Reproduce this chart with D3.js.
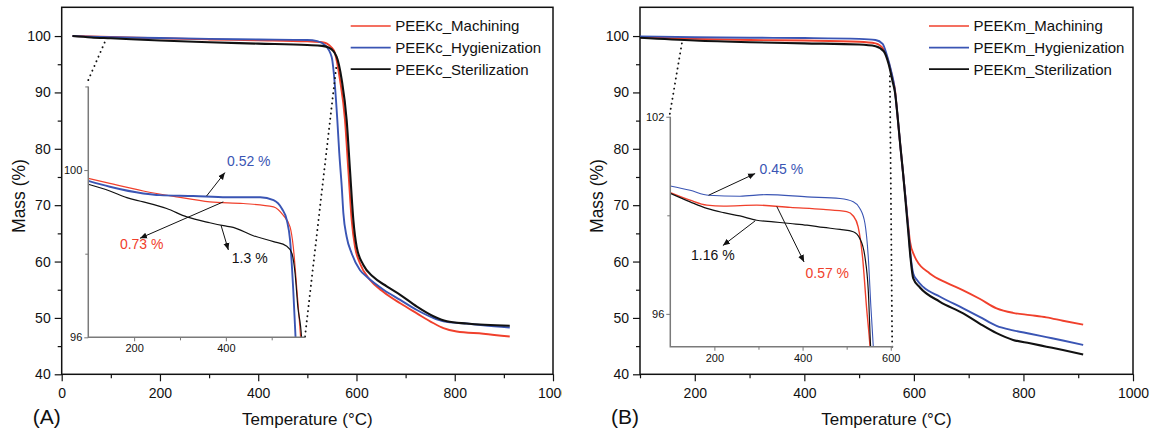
<!DOCTYPE html>
<html>
<head>
<meta charset="utf-8">
<script src="https://cdn.jsdelivr.net/npm/d3@7"></script>
<style>
  body { margin: 0; background: #fff; }
  svg { display: block; }
  text { font-family: "Liberation Sans", Arial, sans-serif; fill: #111; }
</style>
</head>
<body>
<svg id="chart" width="1160" height="434"></svg>
<script>
// ---------------- data ----------------
// Thermogravimetric curves: [temperature °C, mass %]
const seriesLabelsA = ["PEEKc_Machining", "PEEKc_Hygienization", "PEEKc_Sterilization"];
const seriesLabelsB = ["PEEKm_Machining", "PEEKm_Hygienization", "PEEKm_Sterilization"];

const peekcMachining = [[22,100],[100,99.85],[200,99.6],[300,99.4],[400,99.25],[500,99.05],[530,98.9],[539,98.7],[548,98.1],[556,97.0],[566.5,92.2],[576.6,85.1],[583.4,76.2],[590.2,67.4],[597,62.6],[607,59.7],[628,56.7],[655,54.6],[689,52.6],[723,50.8],[756,49.1],[777,48.2],[804,47.6],[858,47.2],[912,46.7]];
const peekcHygienization = [[22,100],[100,99.8],[200,99.65],[300,99.5],[400,99.4],[500,99.3],[520,99.1],[536,98.4],[549.5,96.3],[556.3,91.0],[561,85.1],[565,79.2],[570,73.3],[573.3,68.6],[580,64.4],[590,61.5],[607,58.5],[621,57.3],[655,55.0],[689,53.2],[723,51.4],[756,50.0],[777,49.4],[824,49.0],[858,48.7],[912,48.3]];
const peekcSterilization = [[22,100],[60,99.75],[100,99.6],[200,99.2],[300,98.9],[400,98.65],[500,98.4],[530,98.25],[545,97.9],[559.7,96.3],[570,92.2],[580,85.1],[586.8,76.2],[593.6,67.4],[600.4,62.6],[614,59.4],[634,57.3],[661.5,55.6],[689,54.1],[723,52.0],[756.5,50.3],[784,49.4],[824,49.0],[912,48.6]];

const peekmMachining = [[100,99.8],[200,99.5],[300,99.3],[400,99.2],[500,99.0],[530,98.7],[545,97.6],[554,95.3],[561,92.5],[565.5,90.4],[570,85.9],[575,80.8],[580,75.9],[585,71],[590,66],[593,63.5],[600,61.2],[605,60.2],[629,57.9],[660,56.2],[690,54.9],[720,53.4],[751,51.7],[781,50.9],[812,50.5],[842,50.1],[872,49.5],[909,48.8]];
const peekmHygienization = [[100,99.95],[200,99.8],[300,99.7],[400,99.65],[500,99.5],[530,99.3],[543,98.6],[551,96.5],[558,94],[564.4,91],[570,86],[575,80.8],[580,75.9],[585,71],[590,65.5],[594,61],[598.8,57.9],[605,56.8],[617,55.5],[647,53.8],[690,51.7],[720,50.2],[751,48.6],[781,47.8],[812,47.2],[842,46.6],[872,46.0],[909,45.2]];
const peekmSterilization = [[100,99.7],[200,99.2],[300,98.9],[400,98.7],[500,98.5],[530,98.2],[545,97.3],[554,95],[561,92],[565.5,90],[570,86],[575,80.8],[580,75.9],[585,70.5],[590,65],[594,60.5],[598.8,57.0],[611,55.4],[647,52.9],[690,50.8],[720,49.0],[751,47.3],[781,46.1],[812,45.5],[842,44.9],[872,44.3],[909,43.5]];

// Enlarged low-temperature region (insets)
const insetPeekcMachining = [[100,99.80],[147,99.68],[220,99.50],[293,99.36],[365,99.24],[438,99.20],[504,99.12],[525,98.92],[540,98.64],[547,98.17],[555,97.13],[563,96.0],[566,95.5]];
const insetPeekcHygienization = [[100,99.74],[147,99.60],[220,99.44],[256,99.40],[329,99.38],[402,99.35],[475,99.35],[504,99.28],[522,99.08],[533,98.8],[540,98.33],[547,97.13],[552,96.0],[554,95.5]];
const insetPeekcSterilization = [[100,99.66],[147,99.50],[184,99.34],[220,99.24],[271,99.08],[315,98.88],[365,98.74],[395,98.67],[416,98.63],[460,98.43],[504,98.29],[533,98.18],[544,98.01],[551,97.53],[557,96.73],[565,96.0],[567,95.5]];

const insetPeekmMachining = [[100,99.69],[145,99.46],[183,99.31],[221,99.28],[296,99.31],[372,99.24],[447,99.18],[500,99.11],[515,98.98],[526,98.65],[536,97.73],[545,96.21],[553,95.0],[555,94.6]];
const insetPeekmHygienization = [[100,99.89],[145,99.76],[187,99.61],[258,99.58],[319,99.63],[410,99.56],[485,99.51],[515,99.41],[530,99.21],[541.5,98.75],[549,97.73],[555,96.2],[560.4,95.0],[562,94.6]];
const insetPeekmSterilization = [[100,99.67],[145,99.41],[183,99.21],[221,99.08],[258,98.98],[296,98.85],[334,98.8],[372,98.75],[410,98.7],[447,98.63],[485,98.57],[515,98.5],[530,98.29],[541.5,97.73],[549,96.72],[554.3,95.0],[556,94.6]];

// Tick values
const massTicks = [40, 50, 60, 70, 80, 90, 100];
const massMinorTicks = [45, 55, 65, 75, 85, 95];
const tempTicksA = [0, 200, 400, 600, 800, 1000];
const tempMinorTicksA = [100, 300, 500, 700, 900];
const tempTicksB = [200, 400, 600, 800, 1000];
const tempMinorTicksB = [100, 300, 500, 700, 900];
const insetTempTicks = [200, 400];
const insetTempMinorTicksA = [300, 500];
const insetTempTicksB = [200, 400, 600];
const insetTempMinorTicksB = [300, 500];
const insetMassTicksA = [96, 100];
const insetMassMinorTicksA = [98, 102];
const insetMassTicksB = [96, 102];
const insetMassMinorTicksB = [99];

// Mass-loss annotations (inset data coordinates)
const lossLabelsA = ["0.52 %", "0.73 %", "1.3 %"];
const lossLabelsB = ["0.45 %", "1.16 %", "0.57 %"];

// ---------------- styling / layout ----------------
const COLORS = { red: "#f0402c", blue: "#3a55b4", black: "#111111" };
const seriesColors = [COLORS.red, COLORS.blue, COLORS.black];

const svg = d3.select("#chart");

const defs = svg.append("defs");
defs.append("marker")
  .attr("id", "arrow")
  .attr("markerUnits", "userSpaceOnUse")
  .attr("markerWidth", 8).attr("markerHeight", 7)
  .attr("refX", 7).attr("refY", 3.5)
  .attr("orient", "auto")
  .append("path").attr("d", "M0,0.5 L7,3.5 L0,6.5 Z").attr("fill", "#111");

const panels = [
  {
    id: "A", letter: "(A)",
    left: 61.7, right: 553, top: 7.3, bottom: 374.3,
    xDomain: [0, 1000], yDomain: [40, 105.1],
    xTicks: tempTicksA, xMinor: tempMinorTicksA,
    clipRight: 562,
    labels: seriesLabelsA,
    series: [peekcMachining, peekcHygienization, peekcSterilization],
    inset: {
      box: { t0: 54.1, t1: 495.2, v0: 46.56, v1: 91.06 },
      xDomain: [100, 572.6], yDomain: [96, 102],
      xTicks: insetTempTicks, xMinor: insetTempMinorTicksA,
      yTicks: insetMassTicksA, yMinor: insetMassMinorTicksA,
      series: [insetPeekcMachining, insetPeekcHygienization, insetPeekcSterilization],
      widths: [1.2, 1.9, 1.2],
      notes: [
        { text: lossLabelsA[0], color: COLORS.blue, at: [450, 100.22], from: [358, 99.38], to: [398, 99.94] },
        { text: lossLabelsA[1], color: COLORS.red, at: [216.5, 98.23], from: [394.5, 99.24], to: [212.8, 98.37] },
        { text: lossLabelsA[2], color: COLORS.black, at: [452, 97.89], from: [389.5, 98.68], to: [405.5, 98.09] }
      ]
    },
    dotted: [ [[54.1, 92.2], [88.1, 99.0]], [[495.2, 46.7], [559.7, 95.2]] ]
  },
  {
    id: "B", letter: "(B)",
    left: 640, right: 1133, top: 7.3, bottom: 374.3,
    xDomain: [100, 1000], yDomain: [40, 105.1],
    xTicks: tempTicksB, xMinor: tempMinorTicksB,
    clipRight: 1160,
    labels: seriesLabelsB,
    series: [peekmMachining, peekmHygienization, peekmSterilization],
    inset: {
      box: { t0: 155.3, t1: 562.2, v0: 44.89, v1: 85.69 },
      xDomain: [100, 605.5], yDomain: [95, 102],
      xTicks: insetTempTicksB, xMinor: insetTempMinorTicksB,
      yTicks: insetMassTicksB, yMinor: insetMassMinorTicksB,
      series: [insetPeekmMachining, insetPeekmHygienization, insetPeekmSterilization],
      widths: [1.4, 1.1, 1.2],
      notes: [
        { text: lossLabelsB[0], color: COLORS.blue, at: [352, 100.40], from: [186.8, 99.61], to: [292.4, 100.27] },
        { text: lossLabelsB[1], color: COLORS.black, at: [196.6, 97.78], from: [292.4, 98.83], to: [219.3, 98.08] },
        { text: lossLabelsB[2], color: COLORS.red, at: [456, 97.24], from: [341.5, 99.27], to: [403.4, 97.58] }
      ]
    },
    dotted: [ [[154.5, 86.2], [177.6, 99.4]], [[560.4, 44.9], [556.2, 92.9]] ]
  }
];

function styleAxis(g, fontSize) {
  g.select(".domain").remove();
  g.selectAll(".tick line").attr("stroke", "#111").attr("stroke-width", 1.2);
  g.selectAll(".tick text").attr("font-size", fontSize).attr("fill", "#111")
    .style("font-family", '"Liberation Sans", Arial, sans-serif');
}

panels.forEach(p => {
  const clipId = "clip-panel-" + p.id;
  defs.append("clipPath").attr("id", clipId)
    .append("rect").attr("x", p.left - 70).attr("y", 0)
    .attr("width", p.clipRight - (p.left - 70)).attr("height", 434);

  const g = svg.append("g").attr("clip-path", `url(#${clipId})`);

  const x = d3.scaleLinear().domain(p.xDomain).range([p.left, p.right]);
  const y = d3.scaleLinear().domain(p.yDomain).range([p.bottom, p.top]);

  // Axes: major + minor ticks, outward
  const xAxis = g.append("g").attr("transform", `translate(0,${p.bottom})`)
    .call(d3.axisBottom(x).tickValues(p.xTicks).tickFormat(d3.format("d"))
      .tickSize(7).tickPadding(7).tickSizeOuter(0));
  styleAxis(xAxis, 14);
  const xMinor = g.append("g").attr("transform", `translate(0,${p.bottom})`)
    .call(d3.axisBottom(x).tickValues(p.xMinor).tickFormat("").tickSize(4).tickSizeOuter(0));
  styleAxis(xMinor, 0);

  const yAxis = g.append("g").attr("transform", `translate(${p.left},0)`)
    .call(d3.axisLeft(y).tickValues(massTicks).tickFormat(d3.format("d"))
      .tickSize(7).tickPadding(4).tickSizeOuter(0));
  styleAxis(yAxis, 14);
  const yMinor = g.append("g").attr("transform", `translate(${p.left},0)`)
    .call(d3.axisLeft(y).tickValues(massMinorTicks).tickFormat("").tickSize(4).tickSizeOuter(0));
  styleAxis(yMinor, 0);

  // Frame
  g.append("rect")
    .attr("x", p.left).attr("y", p.top)
    .attr("width", p.right - p.left).attr("height", p.bottom - p.top)
    .attr("fill", "none").attr("stroke", "#111").attr("stroke-width", 1.5);

  // Axis titles and panel letter
  g.append("text")
    .attr("transform", `translate(${p.left - 43},196) rotate(-90)`)
    .attr("text-anchor", "middle").attr("dy", "0.35em")
    .attr("font-size", 17.5).text("Mass (%)");
  g.append("text")
    .attr("x", (p.left + p.right) / 2).attr("y", 425)
    .attr("text-anchor", "middle").attr("font-size", 17)
    .text("Temperature (°C)");
  g.append("text")
    .attr("x", p.left - 29).attr("y", 423.5)
    .attr("font-size", 21).text(p.letter);

  // Main curves
  const line = d3.line().x(d => x(d[0])).y(d => y(d[1])).curve(d3.curveMonotoneX);
  p.series.forEach((s, i) => {
    g.append("path").datum(s)
      .attr("d", line)
      .attr("fill", "none")
      .attr("stroke", seriesColors[i])
      .attr("stroke-width", i === 2 ? 2.1 : 1.9)
      .attr("stroke-linejoin", "round");
  });

  // Dotted connectors between the inset and the curves
  p.dotted.forEach(seg => {
    g.append("line")
      .attr("x1", x(seg[0][0])).attr("y1", y(seg[0][1]))
      .attr("x2", x(seg[1][0])).attr("y2", y(seg[1][1]))
      .attr("stroke", "#111").attr("stroke-width", 1.9)
      .attr("stroke-dasharray", "0.1 5").attr("stroke-linecap", "round");
  });

  // Legend
  const lg = g.append("g");
  p.labels.forEach((lab, i) => {
    const ly = 26 + i * 21.6;
    lg.append("line")
      .attr("x1", p.left + 289).attr("x2", p.left + 329)
      .attr("y1", ly).attr("y2", ly)
      .attr("stroke", seriesColors[i]).attr("stroke-width", 1.7);
    lg.append("text")
      .attr("x", p.left + 333.5).attr("y", ly).attr("dy", "0.36em")
      .attr("font-size", 15).text(lab);
  });

  // Inset
  const ins = p.inset;
  const ix0 = x(ins.box.t0), ix1 = x(ins.box.t1);
  const iy0 = y(ins.box.v0), iy1 = y(ins.box.v1);
  const xi = d3.scaleLinear().domain(ins.xDomain).range([ix0, ix1]);
  const yi = d3.scaleLinear().domain(ins.yDomain).range([iy0, iy1]);

  const ig = g.append("g");
  const insetClip = "clip-inset-" + p.id;
  defs.append("clipPath").attr("id", insetClip)
    .append("rect").attr("x", ix0).attr("y", iy1 - 2)
    .attr("width", ix1 - ix0 + 2).attr("height", iy0 - iy1 + 2);

  const ilg = ig.append("g").attr("clip-path", `url(#${insetClip})`);
  const iline = d3.line().x(d => xi(d[0])).y(d => yi(d[1])).curve(d3.curveMonotoneX);
  ins.series.forEach((s, i) => {
    ilg.append("path").datum(s)
      .attr("d", iline)
      .attr("fill", "none")
      .attr("stroke", seriesColors[i])
      .attr("stroke-width", ins.widths[i])
      .attr("stroke-linejoin", "round");
  });

  const ixAxis = ig.append("g").attr("transform", `translate(0,${iy0})`)
    .call(d3.axisBottom(xi).tickValues(ins.xTicks).tickFormat(d3.format("d"))
      .tickSize(4).tickPadding(3).tickSizeOuter(0));
  styleAxis(ixAxis, 11);
  const ixMinor = ig.append("g").attr("transform", `translate(0,${iy0})`)
    .call(d3.axisBottom(xi).tickValues(ins.xMinor).tickFormat("").tickSize(3).tickSizeOuter(0));
  styleAxis(ixMinor, 0);
  const iyAxis = ig.append("g").attr("transform", `translate(${ix0},0)`)
    .call(d3.axisLeft(yi).tickValues(ins.yTicks).tickFormat(d3.format("d"))
      .tickSize(4).tickPadding(2).tickSizeOuter(0));
  styleAxis(iyAxis, 11);
  const iyMinor = ig.append("g").attr("transform", `translate(${ix0},0)`)
    .call(d3.axisLeft(yi).tickValues(ins.yMinor).tickFormat("").tickSize(3).tickSizeOuter(0));
  styleAxis(iyMinor, 0);
  ig.selectAll(".tick line").attr("stroke", "#777").attr("stroke-width", 1);

  // Inset axis lines (left and bottom only)
  ig.append("path")
    .attr("d", `M${ix0},${iy1} V${iy0} H${ix1}`)
    .attr("fill", "none").attr("stroke", "#7a7a7a").attr("stroke-width", 1.5);

  // Annotations
  ins.notes.forEach(n => {
    ig.append("line")
      .attr("x1", xi(n.from[0])).attr("y1", yi(n.from[1]))
      .attr("x2", xi(n.to[0])).attr("y2", yi(n.to[1]))
      .attr("stroke", "#111").attr("stroke-width", 1)
      .attr("marker-end", "url(#arrow)");
    ig.append("text")
      .attr("x", xi(n.at[0])).attr("y", yi(n.at[1])).attr("dy", "0.35em")
      .attr("text-anchor", "middle").attr("font-size", 14)
      .style("fill", n.color).text(n.text);
  });
});
</script>
</body>
</html>
